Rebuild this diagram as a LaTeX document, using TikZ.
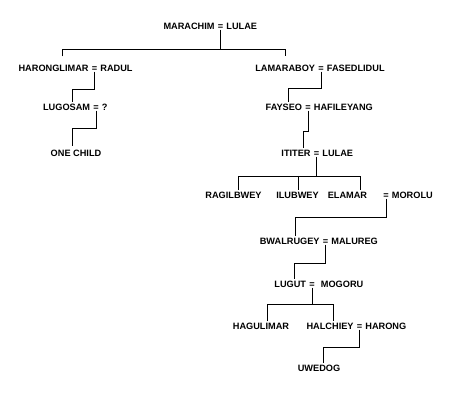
\documentclass[tikz,border=0pt]{standalone}
\usepackage{fontspec}
\setmainfont{Liberation Sans}
\usepackage{tikz}
\usetikzlibrary{positioning}

\begin{document}
\begin{tikzpicture}[x=1pt, y=-1pt, line width=0.7pt, node distance=0pt,
  font=\bfseries\fontsize{9.2}{11}\selectfont,
  kin/.style={inner sep=0pt, text height=6.6pt, text depth=0pt},
  eqs/.style={inner ysep=0pt, inner xsep=2.5pt, text height=6.6pt, text depth=0pt}]
  \useasboundingbox (0,0) rectangle (453,411);
  % couples: the = sign is placed first, the two names hang on it
  \node[eqs] (eqmar) at (220.5,26) {=};
  \node[kin, left=of eqmar] (marachim) {MARACHIM};
  \node[kin, right=of eqmar] (lulae) {LULAE};
  \node[eqs] (eqhar) at (94.5,68) {=};
  \node[kin, left=of eqhar] (haronglimar) {HARONGLIMAR};
  \node[kin, right=of eqhar] (radul) {RADUL};
  \node[eqs] (eqlam) at (321,68) {=};
  \node[kin, left=of eqlam] (lamaraboy) {LAMARABOY};
  \node[kin, right=of eqlam] (fasedlidul) {FASEDLIDUL};
  \node[eqs] (eqlug) at (96,107) {=};
  \node[kin, left=of eqlug] (lugosam) {LUGOSAM};
  \node[kin, right=of eqlug] (unknown) {?};
  \node[eqs] (eqfay) at (308,107) {=};
  \node[kin, left=of eqfay] (fayseo) {FAYSEO};
  \node[kin, right=of eqfay] (hafileyang) {HAFILEYANG};
  \node[kin] (onechild) at (76,153) {ONE CHILD};
  \node[eqs] (eqiti) at (316.5,153) {=};
  \node[kin, left=of eqiti] (ititer) {ITITER};
  \node[kin, right=of eqiti] (lulaeb) {LULAE};
  \node[kin] (ragilbwey) at (233.5,195) {RAGILBWEY};
  \node[kin] (ilubwey) at (297.5,195) {ILUBWEY};
  \node[eqs] (eqela) at (386,195) {=};
  \node[kin, left=13pt of eqela] (elamar) {ELAMAR};
  \node[kin, right=of eqela] (morolu) {MOROLU};
  \node[eqs] (eqbwa) at (325.5,241) {=};
  \node[kin, left=of eqbwa] (bwalrugey) {BWALRUGEY};
  \node[kin, right=of eqbwa] (malureg) {MALUREG};
  \node[eqs] (eqlgt) at (312,284) {=};
  \node[kin, left=of eqlgt] (lugut) {LUGUT};
  \node[kin, right=3pt of eqlgt] (mogoru) {MOGORU};
  \node[kin] (hagulimar) at (261,326) {HAGULIMAR};
  \node[eqs] (eqhal) at (359.5,326) {=};
  \node[kin, left=of eqhal] (halchiey) {HALCHIEY};
  \node[kin, right=of eqhal] (harong) {HARONG};
  \node[kin] (uwedog) at (319,368) {UWEDOG};

  % descent lines
  \coordinate (busm-l) at (62,49); \coordinate (busm-r) at (285,49);
  \draw (eqmar.south) -- (eqmar.south |- busm-l);
  \draw[shorten <=8pt, shorten >=8pt] (haronglimar.north -| busm-l) -- (busm-l) -- (busm-r) -- (lamaraboy.north -| busm-r);
  \coordinate (kh) at (72,89);
  \draw[shorten >=1pt] (eqhar.south) |- (kh) -- (kh |- lugosam.north);
  \coordinate (kl) at (72,128);
  \draw[shorten >=3pt] (eqlug.south) |- (kl) -- (kl |- onechild.north);
  \coordinate (kf) at (288,88);
  \draw[shorten >=1pt] (eqlam.south) |- (kf) -- (kf |- fayseo.north);
  \coordinate (ki) at (303,131);
  \draw[shorten >=1pt] (eqfay.south) |- (ki) -- (ki |- ititer.north);
  \coordinate (busi-l) at (238,176); \coordinate (busi-m) at (298,176); \coordinate (busi-r) at (360,176);
  \draw (eqiti.south) -- (eqiti.south |- busi-l);
  \draw[shorten <=1pt, shorten >=1pt] (ragilbwey.north -| busi-l) -- (busi-l) -- (busi-r) -- (elamar.north -| busi-r);
  \draw[shorten >=1pt] (busi-m) -- (ilubwey.north -| busi-m);
  \coordinate (kb) at (295,217);
  \draw[shorten >=1pt] (eqela.south) |- (kb) -- (kb |- bwalrugey.north);
  \coordinate (kg) at (294,263);
  \draw[shorten >=1pt] (eqbwa.south) |- (kg) -- (kg |- lugut.north);
  \coordinate (busl-l) at (267,304); \coordinate (busl-r) at (333,304);
  \draw (eqlgt.south) -- (eqlgt.south |- busl-l);
  \draw[shorten <=1pt, shorten >=1pt] (hagulimar.north -| busl-l) -- (busl-l) -- (busl-r) -- (halchiey.north -| busl-r);
  \coordinate (ku) at (323,347);
  \draw[shorten >=1pt] (eqhal.south) |- (ku) -- (ku |- uwedog.north);
\end{tikzpicture}
\end{document}
